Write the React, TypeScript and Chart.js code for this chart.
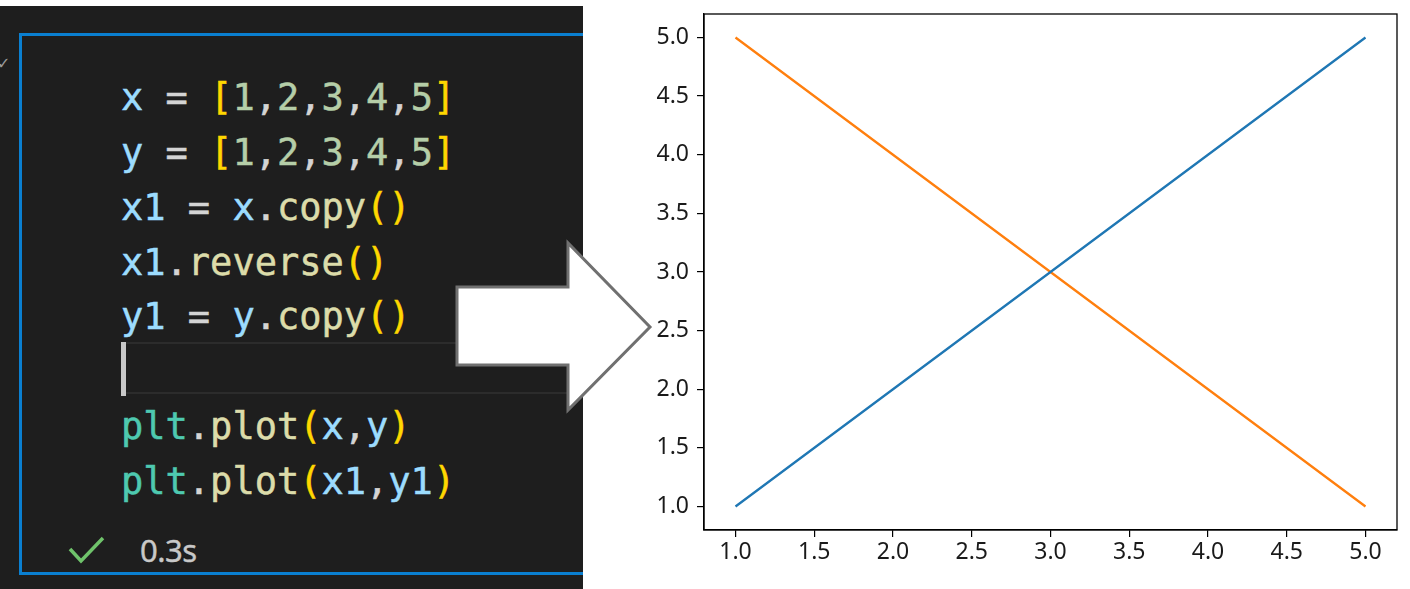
import React, { useEffect, useRef } from "react";
import { Chart, registerables } from "chart.js";

Chart.register(...registerables);

const xValues = [1, 2, 3, 4, 5];
const yValues = [1, 2, 3, 4, 5];
const x1Values = [5, 4, 3, 2, 1];
const y1Values = [1, 2, 3, 4, 5];
const xTicks = [1.0, 1.5, 2.0, 2.5, 3.0, 3.5, 4.0, 4.5, 5.0];
const yTicks = [1.0, 1.5, 2.0, 2.5, 3.0, 3.5, 4.0, 4.5, 5.0];
const seriesColors = ["#1f77b4", "#ff7f0e"];

const C = {
  v: "#9cdcfe",
  op: "#d4d4d4",
  br: "#ffd700",
  num: "#b5cea8",
  fn: "#dcdcaa",
  cls: "#4ec9b0",
};

type Tok = [string, string];
const codeLines: { top: number; toks: Tok[] }[] = [
  { top: 76, toks: [["x", C.v], [" = ", C.op], ["[", C.br], ["1", C.num], [",", C.op], ["2", C.num], [",", C.op], ["3", C.num], [",", C.op], ["4", C.num], [",", C.op], ["5", C.num], ["]", C.br]] },
  { top: 131, toks: [["y", C.v], [" = ", C.op], ["[", C.br], ["1", C.num], [",", C.op], ["2", C.num], [",", C.op], ["3", C.num], [",", C.op], ["4", C.num], [",", C.op], ["5", C.num], ["]", C.br]] },
  { top: 186, toks: [["x1", C.v], [" = ", C.op], ["x", C.v], [".", C.op], ["copy", C.fn], ["()", C.br]] },
  { top: 241, toks: [["x1", C.v], [".", C.op], ["reverse", C.fn], ["()", C.br]] },
  { top: 295, toks: [["y1", C.v], [" = ", C.op], ["y", C.v], [".", C.op], ["copy", C.fn], ["()", C.br]] },
  { top: 405, toks: [["plt", C.cls], [".", C.op], ["plot", C.fn], ["(", C.br], ["x", C.v], [",", C.op], ["y", C.v], [")", C.br]] },
  { top: 460, toks: [["plt", C.cls], [".", C.op], ["plot", C.fn], ["(", C.br], ["x1", C.v], [",", C.op], ["y1", C.v], [")", C.br]] },
];

const boxPlugin = {
  id: "axesBox",
  afterDraw(chart: any) {
    const { ctx, chartArea } = chart;
    ctx.save();
    ctx.strokeStyle = "#000";
    ctx.lineWidth = 1.3;
    ctx.strokeRect(chartArea.left, chartArea.top, chartArea.right - chartArea.left, chartArea.bottom - chartArea.top);
    ctx.restore();
  },
};

function PlotChart() {
  const ref = useRef<HTMLCanvasElement | null>(null);
  useEffect(() => {
    if (!ref.current) return;
    const tickFont = { family: "'Noto Sans', 'Open Sans', sans-serif", size: 23 };
    const chart = new Chart(ref.current, {
      type: "scatter",
      data: {
        datasets: [
          {
            data: xValues.map((x, i) => ({ x, y: yValues[i] })),
            borderColor: seriesColors[0],
            backgroundColor: seriesColors[0],
            showLine: true,
            pointRadius: 0,
            borderWidth: 2.3,
          },
          {
            data: x1Values.map((x, i) => ({ x, y: y1Values[i] })),
            borderColor: seriesColors[1],
            backgroundColor: seriesColors[1],
            showLine: true,
            pointRadius: 0,
            borderWidth: 2.3,
          },
        ],
      },
      options: {
        animation: false,
        responsive: false,
        devicePixelRatio: 1,
        layout: { padding: { top: 14, right: 13, left: 0, bottom: 0 } },
        plugins: { legend: { display: false }, tooltip: { enabled: false } },
        scales: {
          x: {
            type: "linear",
            min: 0.8,
            max: 5.2,
            afterBuildTicks: (s: any) => {
              s.ticks = xTicks.map((v) => ({ value: v }));
            },
            afterFit: (s: any) => {
              s.height = 59;
              s.paddingLeft = 0;
              s.paddingRight = 0;
            },
            grid: { display: true, drawOnChartArea: false, drawTicks: true, tickLength: 7, tickColor: "#000", lineWidth: 1.2 },
            border: { display: true, color: "#000", width: 1.3 },
            ticks: {
              color: "#1a1a1a",
              font: tickFont,
              padding: 2,
              maxRotation: 0,
              autoSkip: false,
              callback: (v: any) => Number(v).toFixed(1),
            },
          },
          y: {
            type: "linear",
            min: 0.8,
            max: 5.2,
            afterBuildTicks: (s: any) => {
              s.ticks = yTicks.map((v) => ({ value: v }));
            },
            afterFit: (s: any) => {
              s.width = 104;
              s.paddingTop = 0;
              s.paddingBottom = 0;
            },
            grid: { display: true, drawOnChartArea: false, drawTicks: true, tickLength: 7, tickColor: "#000", lineWidth: 1.2 },
            border: { display: true, color: "#000", width: 1.3 },
            ticks: {
              color: "#1a1a1a",
              font: tickFont,
              padding: 8,
              autoSkip: false,
              callback: (v: any) => Number(v).toFixed(1),
            },
          },
        },
      },
      plugins: [boxPlugin],
    } as any);
    return () => chart.destroy();
  }, []);
  return (
    <canvas
      ref={ref}
      width={810}
      height={589}
      style={{ position: "absolute", left: 600, top: 0, width: 810, height: 589 }}
    />
  );
}

export default function App() {
  useEffect(() => {
    document.body.style.margin = "0";
  }, []);
  const mono = "'DejaVu Sans Mono', 'Liberation Mono', monospace";
  return (
    <div style={{ position: "fixed", left: 0, top: 0, width: 1410, height: 589, background: "#fff", overflow: "hidden" }}>
      {/* editor panel */}
      <div style={{ position: "absolute", left: 0, top: 6, width: 583, height: 583, background: "#1e1e1e", overflow: "hidden" }}>
        <div style={{ position: "absolute", left: -3, top: 48, color: "#9a9a9a", fontSize: 16, fontFamily: "'DejaVu Sans', sans-serif" }}>✓</div>
        <div style={{ position: "absolute", left: 19, top: 27, width: 600, height: 542, border: "3px solid #0a7fd0", boxSizing: "border-box" }} />
        {/* current line highlight */}
        <div style={{ position: "absolute", left: 121, top: 336, width: 470, height: 52, border: "2px solid #2c2c2c", boxSizing: "border-box" }} />
        <div style={{ position: "absolute", left: 121, top: 336, width: 5, height: 54, background: "#c8c8c8" }} />
        {codeLines.map((ln, i) => (
          <div
            key={i}
            style={{
              position: "absolute",
              left: 121,
              top: ln.top - 6,
              fontFamily: mono,
              fontSize: 37,
              lineHeight: "44px",
              whiteSpace: "pre",
              WebkitTextStroke: "0.5px",
            } as any}
          >
            {ln.toks.map((t, j) => (
              <span key={j} style={{ color: t[1] }}>{t[0]}</span>
            ))}
          </div>
        ))}
        <div style={{ position: "absolute", left: 140, top: 524, color: "#c8c8c8", fontSize: 31, fontFamily: "'Noto Sans', sans-serif", lineHeight: "40px", letterSpacing: -0.5, WebkitTextStroke: "0.4px" } as any}>0.3s</div>
      </div>
      <svg width={1410} height={589} style={{ position: "absolute", left: 0, top: 0, pointerEvents: "none" }}>
        <polyline points="70,549 81,561 103,538" fill="none" stroke="#6fc36b" strokeWidth={3.5} />
        <polygon
          points="457,287 568,287 568,243 650,327 568,410 568,365 457,365"
          fill="#fff"
          stroke="#707070"
          strokeWidth={3}
        />
      </svg>
      <PlotChart />
    </div>
  );
}
